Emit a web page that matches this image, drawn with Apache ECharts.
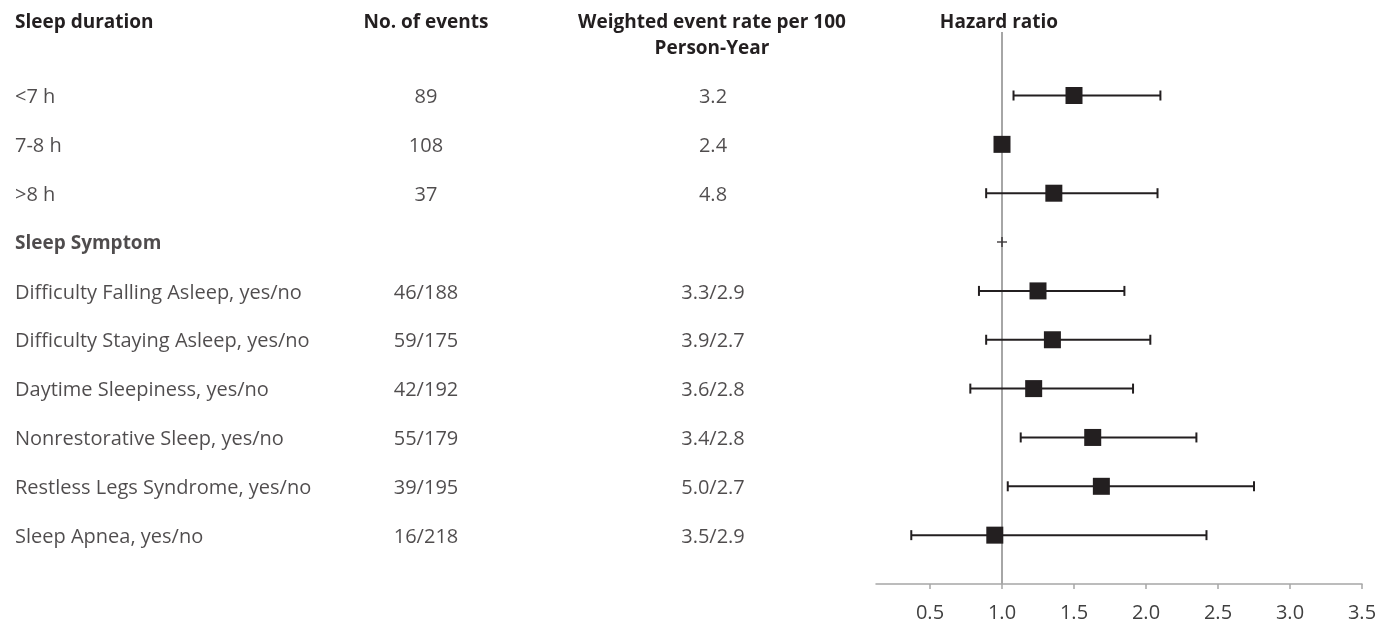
<!DOCTYPE html>
<html>
<head>
<meta charset="utf-8">
<script src="https://cdn.jsdelivr.net/npm/echarts@6/dist/echarts.min.js"></script>
<style>
  html, body { margin: 0; padding: 0; background: #ffffff; }
  #chart { width: 1376px; height: 621px; }
</style>
</head>
<body>
<div id="chart"></div>
<script>
// ---------- data ----------
const rowLabels = [
  '<7 h', '7-8 h', '>8 h', 'Sleep Symptom',
  'Difficulty Falling Asleep, yes/no', 'Difficulty Staying Asleep, yes/no',
  'Daytime Sleepiness, yes/no', 'Nonrestorative Sleep, yes/no',
  'Restless Legs Syndrome, yes/no', 'Sleep Apnea, yes/no'
];
const boldRows = ['Sleep Symptom'];
const eventCounts = ['89', '108', '37', '', '46/188', '59/175', '42/192', '55/179', '39/195', '16/218'];
const eventRates = ['3.2', '2.4', '4.8', '', '3.3/2.9', '3.9/2.7', '3.6/2.8', '3.4/2.8', '5.0/2.7', '3.5/2.9'];
const hrPoint = [1.50, 1.00, 1.36, null, 1.25, 1.35, 1.22, 1.63, 1.69, 0.95];
const ciLower = [1.08, null, 0.89, null, 0.84, 0.89, 0.78, 1.13, 1.04, 0.37];
const ciUpper = [2.10, null, 2.08, null, 1.85, 2.03, 1.91, 2.35, 2.75, 2.42];
const plusMarker = [null, null, null, 1.0, null, null, null, null, null, null];
const xTicks = [0.5, 1.0, 1.5, 2.0, 2.5, 3.0, 3.5];
const headerSleep = 'Sleep duration';
const headerEvents = 'No. of events';
const headerRate = 'Weighted event rate per 100\nPerson-Year';
const headerHR = 'Hazard ratio';
const refValue = 1.0;

// ---------- style ----------
const FONT = '"Open Sans"';
const FS = 20;
const HFS = 19;
const INK = '#231f20';
const GREY = '#a6a6a6';

const rowIdx = rowLabels.map((_, i) => i + 1);
const errData = [];
const ptData = [];
const plusData = [];
rowIdx.forEach((r, i) => {
  if (ciLower[i] != null && ciUpper[i] != null) errData.push([ciLower[i], ciUpper[i], r]);
  if (hrPoint[i] != null) ptData.push([hrPoint[i], r]);
  if (plusMarker[i] != null) plusData.push([plusMarker[i], r]);
});

function textSeries(values, xPos, align) {
  return {
    type: 'scatter', xAxisIndex: 1, yAxisIndex: 1, silent: true,
    symbolSize: 1, itemStyle: { color: 'rgba(0,0,0,0)' },
    data: values.map((v, i) => ({
      value: [xPos, rowIdx[i]],
      name: v,
      label: boldRows.indexOf(v) >= 0 ? { fontWeight: 'bold', fontSize: HFS } : {}
    })).filter(d => d.name !== ''),
    label: {
      show: true, position: 'inside', align: align, verticalAlign: 'middle',
      offset: [0, 2],
      formatter: p => p.name, color: INK, fontFamily: FONT, fontSize: FS
    },
    z: 5
  };
}

const hfont = 'bold ' + HFS + 'px ' + FONT;
const chart = echarts.init(document.getElementById('chart'), null, { renderer: 'canvas' });
const option = {
  animation: false,
  backgroundColor: '#ffffff',
  grid: [
    { left: 876, right: 14, top: 32, bottom: 37, outerBoundsMode: 'none', containLabel: false },
    { left: 0, right: 0, top: 32, bottom: 37, outerBoundsMode: 'none', containLabel: false }
  ],
  xAxis: [
    {
      type: 'value', gridIndex: 0, min: 0.125, max: 3.5, position: 'bottom',
      axisLine: { show: true, onZero: false, lineStyle: { color: GREY, width: 1.5 } },
      axisTick: { show: true, length: 5, lineStyle: { color: GREY, width: 1.5 }, customValues: xTicks },
      axisLabel: {
        show: true, customValues: xTicks, margin: 19,
        formatter: v => Number(v).toFixed(1),
        color: '#404040', fontFamily: FONT, fontSize: FS
      },
      splitLine: { show: false }
    },
    { type: 'value', gridIndex: 1, min: 0, max: 1376, show: false }
  ],
  yAxis: [
    { type: 'value', gridIndex: 0, inverse: true, min: -0.3, max: 11, show: false },
    { type: 'value', gridIndex: 1, inverse: true, min: -0.3, max: 11, show: false }
  ],
  graphic: [
    { type: 'text', x: 15, y: 10, style: { text: headerSleep, font: hfont, fill: INK, align: 'left', verticalAlign: 'top', lineHeight: 26 } },
    { type: 'text', x: 426, y: 10, style: { text: headerEvents, font: hfont, fill: INK, align: 'center', verticalAlign: 'top', lineHeight: 26 } },
    { type: 'text', x: 712, y: 10, style: { text: headerRate, font: hfont, fill: INK, align: 'center', verticalAlign: 'top', lineHeight: 26 } },
    { type: 'text', x: 999, y: 10, style: { text: headerHR, font: hfont, fill: INK, align: 'center', verticalAlign: 'top', lineHeight: 26 } }
  ],
  series: [
    {
      type: 'custom', xAxisIndex: 0, yAxisIndex: 0, silent: true, z: 3,
      data: errData,
      renderItem: function (params, api) {
        const a = api.coord([api.value(0), api.value(2)]);
        const b = api.coord([api.value(1), api.value(2)]);
        const h = 5;
        const st = { stroke: INK, lineWidth: 2 };
        return {
          type: 'group',
          children: [
            { type: 'line', shape: { x1: a[0], y1: a[1], x2: b[0], y2: b[1] }, style: st },
            { type: 'line', shape: { x1: a[0], y1: a[1] - h, x2: a[0], y2: a[1] + h }, style: st },
            { type: 'line', shape: { x1: b[0], y1: b[1] - h, x2: b[0], y2: b[1] + h }, style: st }
          ]
        };
      },
      markLine: {
        silent: true, symbol: 'none', label: { show: false },
        lineStyle: { color: GREY, width: 2, type: 'solid' },
        data: [{ xAxis: refValue }],
        z: 1
      }
    },
    {
      type: 'scatter', xAxisIndex: 0, yAxisIndex: 0, silent: true, z: 4,
      symbol: 'rect', symbolSize: 17,
      itemStyle: { color: INK, opacity: 1 },
      data: ptData
    },
    {
      type: 'scatter', xAxisIndex: 0, yAxisIndex: 0, silent: true, z: 4,
      symbol: 'path://M0,5L10,5M5,0L5,10', symbolSize: 10,
      itemStyle: { color: 'none', borderColor: INK, borderWidth: 1.5 },
      data: plusData
    },
    textSeries(rowLabels, 15, 'left'),
    textSeries(eventCounts, 426, 'center'),
    textSeries(eventRates, 713, 'center')
  ]
};
chart.setOption(option);
</script>
</body>
</html>
